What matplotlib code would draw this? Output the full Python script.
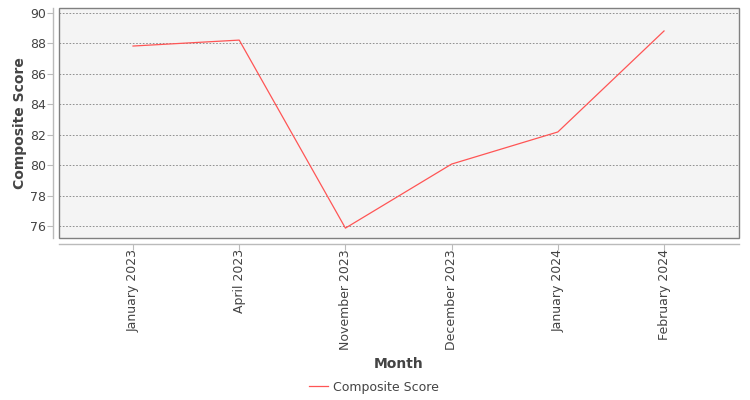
import matplotlib
matplotlib.use("Agg")
import matplotlib.pyplot as plt
from matplotlib.patches import Rectangle
from matplotlib.lines import Line2D

months = ["January 2023", "April 2023", "November 2023", "December 2023", "January 2024", "February 2024"]
scores = [87.83, 88.22, 75.86, 80.07, 82.18, 88.82]
yticks = [76, 78, 80, 82, 84, 86, 88, 90]
series_name = "Composite Score"

fig = plt.figure(figsize=(7.5, 4), dpi=100)
ax = fig.add_axes([59/750, 1-238/400, 680/750, 230/400])
ax.set_facecolor("#f4f4f4")

x = list(range(len(months)))
ax.plot(x, scores, color="#ff5555", lw=0.9)

ax.set_xlim(-0.697, 5.706)
ax.set_ylim(75.21, 90.33)
ax.set_yticks(yticks)
ax.set_xticks(x)
ax.set_xticklabels(months)
ax.grid(axis="y", color="#808080", linestyle=(0, (2, 2)), lw=0.6)
ax.set_axisbelow(True)

for s in ["top", "right"]:
    ax.spines[s].set_visible(False)
for s in ["left", "bottom"]:
    ax.spines[s].set_position(("outward", 4))
    ax.spines[s].set_color("#bbbbbb")
    ax.spines[s].set_linewidth(1.0)
ax.add_patch(Rectangle((0, 0), 1, 1, transform=ax.transAxes, fill=False,
                       edgecolor="#808080", lw=1.0, zorder=5, clip_on=False))

ax.tick_params(axis="both", colors="#bbbbbb", labelcolor="#444444", labelsize=9, length=4, width=0.8)
ax.tick_params(axis="x", pad=0, labelrotation=90)
ax.tick_params(axis="y", pad=1.5)

ax.set_xlabel("Month", fontsize=10, fontweight="bold", color="#444444")
ax.set_ylabel("Composite Score", fontsize=10, fontweight="bold", color="#444444")
ax.xaxis.set_label_coords(0.5, -(357-238)/230, transform=ax.transAxes)
ax.yaxis.set_label_coords(-(59-27)/680, 0.5, transform=ax.transAxes)

handle = Line2D([], [], color="#ff5555", lw=0.9)
fig.legend([handle], [series_name], loc="center", bbox_to_anchor=(374/750, 1-387/400),
           frameon=False, fontsize=9, handlelength=1.5, handletextpad=0.4,
           labelcolor="#444444")

fig.savefig("out.png", dpi=100)
